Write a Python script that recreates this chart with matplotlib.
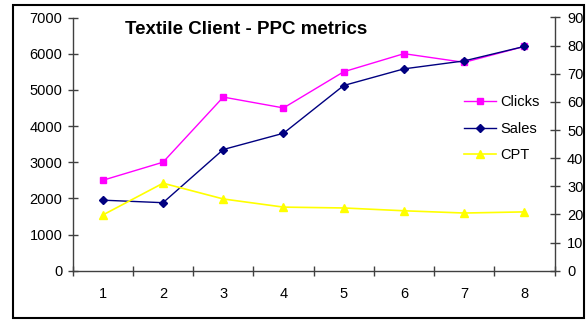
import matplotlib
matplotlib.use("Agg")
import matplotlib.pyplot as plt
from matplotlib.patches import Rectangle

plt.rcParams['font.family'] = ['Liberation Sans', 'DejaVu Sans']

periods = [1, 2, 3, 4, 5, 6, 7, 8]
clicks = [2500, 3000, 4800, 4500, 5500, 6000, 5760, 6200]
sales = [1950, 1880, 3350, 3800, 5120, 5580, 5800, 6200]
cpt = [19.8, 31.1, 25.5, 22.6, 22.3, 21.3, 20.5, 20.9]
left_ticks = [0, 1000, 2000, 3000, 4000, 5000, 6000, 7000]
right_ticks = [0, 10, 20, 30, 40, 50, 60, 70, 80, 90]

fig = plt.figure(figsize=(5.87, 3.2), dpi=100)
ax = fig.add_axes([72.7 / 587, 1 - 270.7 / 320, (554.5 - 72.7) / 587, (270.7 - 17.5) / 320])
ax2 = ax.twinx()

axis_color = '#404040'
ln1, = ax.plot(periods, clicks, color='#FF00FF', lw=1.0, marker='s', ms=4.5,
               label='Clicks')
ln2, = ax.plot(periods, sales, color='#000080', lw=1.0, marker='D', ms=4.2,
               label='Sales')
ln3, = ax2.plot(periods, cpt, color='#FFFF00', lw=1.2, marker='^', ms=6,
                label='CPT')

ax.set_xlim(0.5, 8.5)
ax.set_ylim(0, 7000)
ax2.set_ylim(0, 90)
ax.set_yticks(left_ticks)
ax2.set_yticks(right_ticks)
ax.set_xticks(periods)
ax.set_xticks([p + 0.5 for p in [0] + periods], minor=True)

for a in (ax, ax2):
    for s in a.spines.values():
        s.set_visible(False)
    a.set_facecolor('none')

ax.spines['left'].set_visible(True)
ax.spines['bottom'].set_visible(True)
ax2.spines['right'].set_visible(True)
for a, side in ((ax, 'left'), (ax, 'bottom'), (ax2, 'right')):
    a.spines[side].set_color(axis_color)
    a.spines[side].set_linewidth(1.0)

ax.tick_params(axis='y', direction='inout', length=7, width=1, color=axis_color,
               labelsize=10.5, pad=4)
ax2.tick_params(axis='y', direction='inout', length=7, width=1, color=axis_color,
                labelsize=10.5, pad=5.5)
ax.tick_params(axis='x', which='major', length=0, labelsize=10.5, pad=12)
ax.tick_params(axis='x', which='minor', direction='inout', length=7, width=1,
               color=axis_color)

fig.text(125 / 587, 1 - 29 / 320, 'Textile Client - PPC metrics', fontsize=13.5,
         fontweight='bold', ha='left', va='center')

ax.legend(handles=[ln1, ln2, ln3], loc='upper left',
          bbox_to_anchor=(0.80, 0.715), frameon=False, fontsize=10.5,
          handlelength=2.2, handletextpad=0.3, labelspacing=0.85,
          borderaxespad=0)

fig.patches.append(Rectangle((13 / 587, 1 - 318 / 320), (584 - 13) / 587,
                             (318 - 5) / 320, transform=fig.transFigure,
                             fill=False, edgecolor='black', lw=1.5))

fig.savefig('out.png', dpi=100)
